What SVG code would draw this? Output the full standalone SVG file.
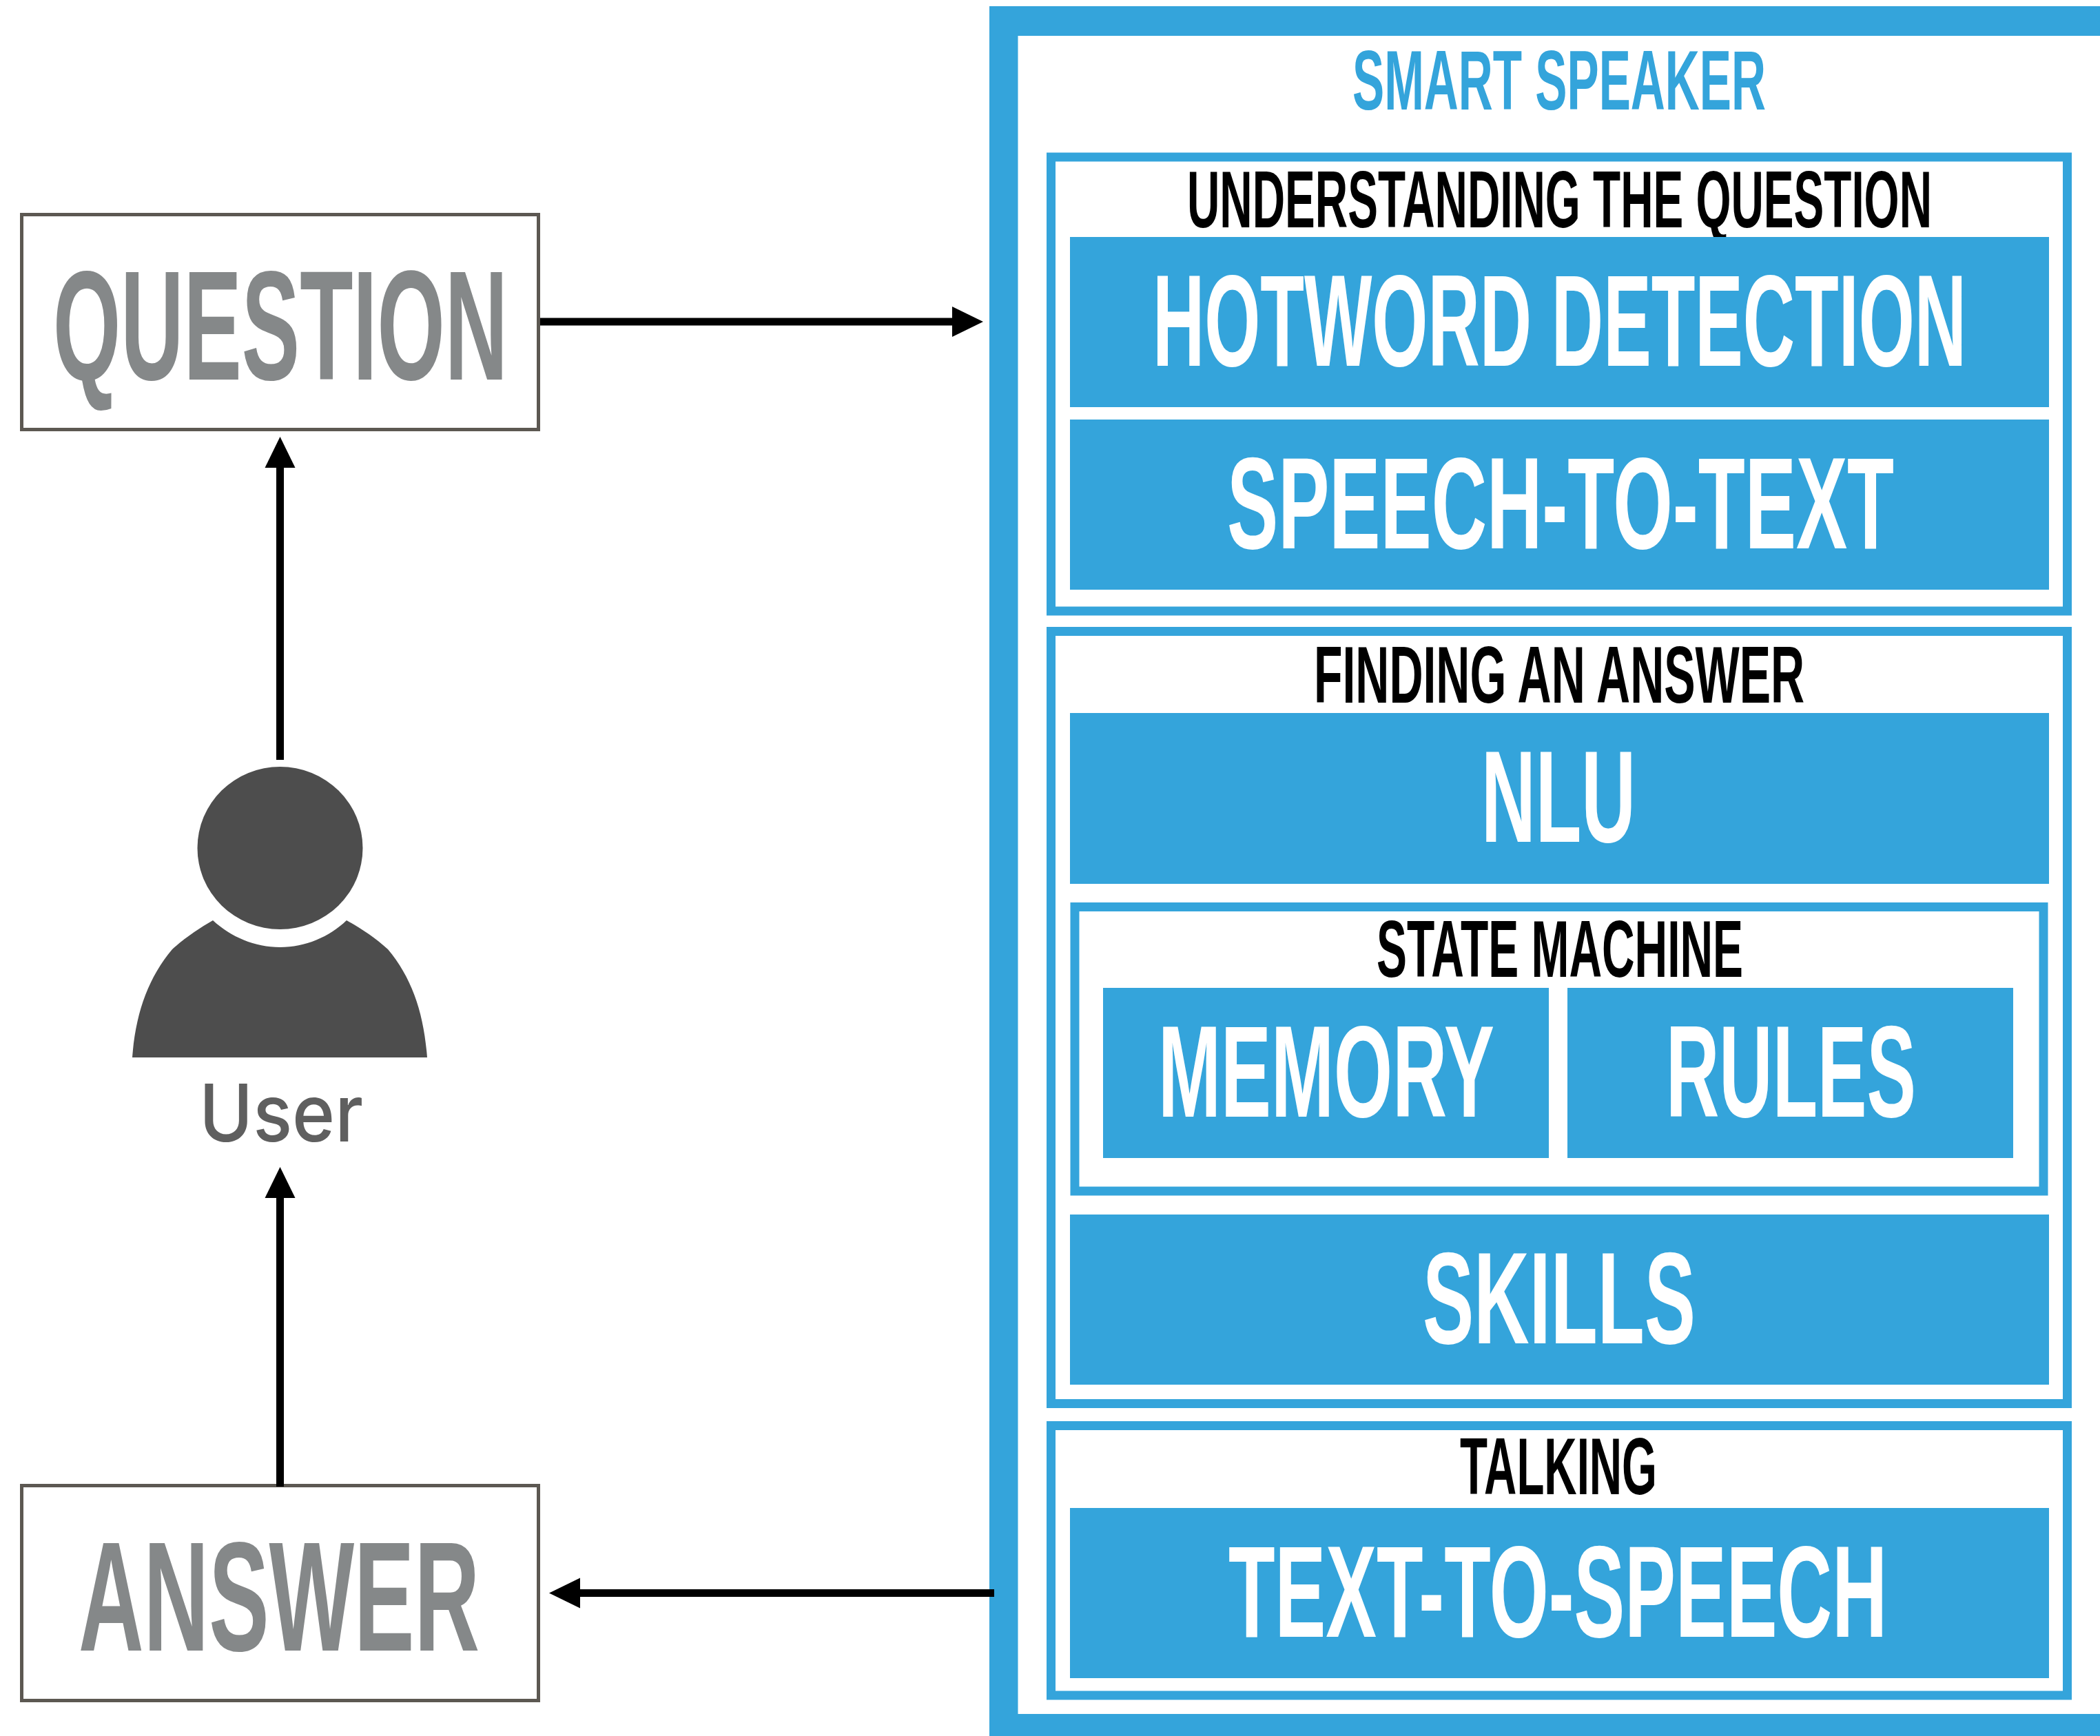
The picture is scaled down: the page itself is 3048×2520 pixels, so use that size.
<svg xmlns="http://www.w3.org/2000/svg" width="3048" height="2520" viewBox="0 0 3048 2520">
<style>
text{font-family:"Liberation Sans Narrow","Liberation Sans",Arial,sans-serif;font-weight:700;text-anchor:start}
.lg{font-size:189px;fill:#fff}
.md{font-size:116px;fill:#000}
.tt{font-size:122px;fill:#34a4db}
.gy{font-size:227px;fill:#858889}
.usr{font-family:Inter,Lato,sans-serif;font-weight:500;font-size:115px;fill:#5f5f5f}
.box{fill:#fff;stroke:#5c5852;stroke-width:5}
.sec{fill:#fff;stroke:#34a4db;stroke-width:13}
.blk{fill:#34a4db}
.ln{fill:none;stroke:#000;stroke-width:11}
</style>
<defs>
<marker id="ah" markerUnits="userSpaceOnUse" markerWidth="45" markerHeight="46" refX="0" refY="23" orient="auto"><path d="M0 1L45 23L0 45Z" fill="#000"/></marker>
</defs>
<rect width="3048" height="2520" fill="#fff"/>
<g id="smart-speaker">
<path class="blk" d="M1436 9H3048V52H1477.5V2488H3048V2520H1436Z"/>
<text class="tt" x="1963" y="159" textLength="600" lengthAdjust="spacingAndGlyphs">SMART SPEAKER</text>
</g>
<g id="understanding">
<rect class="sec" x="1525.5" y="228" width="1475" height="659"/>
<text class="md" x="1723" y="330" textLength="1081" lengthAdjust="spacingAndGlyphs">UNDERSTANDING THE QUESTION</text>
</g>
<g id="hotword"><rect class="blk" x="1553" y="344" width="1421" height="247"/><text class="lg" x="1673" y="531" textLength="1181" lengthAdjust="spacingAndGlyphs">HOTWORD DETECTION</text></g>
<g id="speech-to-text"><rect class="blk" x="1553" y="609" width="1421" height="247"/><text class="lg" x="1781" y="796" textLength="968" lengthAdjust="spacingAndGlyphs">SPEECH-TO-TEXT</text></g>
<g id="finding">
<rect class="sec" x="1525.5" y="916.5" width="1475" height="1121"/>
<text class="md" x="1907" y="1020" textLength="712" lengthAdjust="spacingAndGlyphs">FINDING AN ANSWER</text>
</g>
<g id="nlu"><rect class="blk" x="1553" y="1035" width="1421" height="248"/><text class="lg" x="2150" y="1222" textLength="224" lengthAdjust="spacingAndGlyphs">NLU</text></g>
<g id="state-machine">
<rect class="sec" x="1560" y="1316.5" width="1406" height="412.5"/>
<text class="md" x="1998" y="1418" textLength="532" lengthAdjust="spacingAndGlyphs">STATE MACHINE</text>
</g>
<g id="memory"><rect class="blk" x="1601" y="1434" width="647" height="247"/><text class="lg" x="1681" y="1621" textLength="488" lengthAdjust="spacingAndGlyphs">MEMORY</text></g>
<g id="rules"><rect class="blk" x="2275" y="1434" width="647" height="247"/><text class="lg" x="2418" y="1621" textLength="363" lengthAdjust="spacingAndGlyphs">RULES</text></g>
<g id="skills"><rect class="blk" x="1553" y="1763" width="1421" height="247"/><text class="lg" x="2065" y="1950" textLength="396" lengthAdjust="spacingAndGlyphs">SKILLS</text></g>
<g id="talking">
<rect class="sec" x="1525.5" y="2069.5" width="1475" height="391.5"/>
<text class="md" x="2119" y="2169" textLength="286" lengthAdjust="spacingAndGlyphs">TALKING</text>
</g>
<g id="text-to-speech"><rect class="blk" x="1553" y="2189" width="1421" height="247"/><text class="lg" x="1783" y="2376" textLength="956" lengthAdjust="spacingAndGlyphs">TEXT-TO-SPEECH</text></g>
<g id="question"><rect class="box" x="31.5" y="311.5" width="750" height="312"/><text class="gy" x="77" y="551" textLength="660" lengthAdjust="spacingAndGlyphs">QUESTION</text></g>
<g id="answer"><rect class="box" x="31.5" y="2156.5" width="750" height="312"/><text class="gy" x="114" y="2396" textLength="582" lengthAdjust="spacingAndGlyphs">ANSWER</text></g>
<g id="user">
<ellipse cx="406.5" cy="1231" rx="120" ry="118" fill="#4d4d4d"/>
<path fill="#4d4d4d" d="M192 1535C197 1470 215 1420 250 1378C270 1360 290 1347 309 1336C335 1360 370 1375 406.5 1375C443 1375 478 1360 503 1336C523 1347 543 1360 563 1378C598 1420 615 1470 620 1535Z"/>
<text class="usr" x="289" y="1657" textLength="238" lengthAdjust="spacingAndGlyphs">User</text>
</g>
<g id="connectors">
<path class="ln" d="M784 467H1382" marker-end="url(#ah)"/>
<path class="ln" d="M406.5 1103V679" marker-end="url(#ah)"/>
<path class="ln" d="M406.5 2158V1739" marker-end="url(#ah)"/>
<path class="ln" d="M1443 2312.5H842" marker-end="url(#ah)"/>
</g>
</svg>
